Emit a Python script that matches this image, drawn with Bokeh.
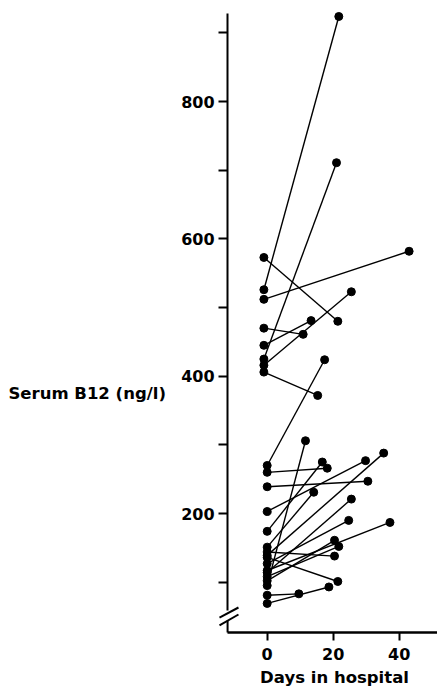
from bokeh.plotting import figure
from bokeh.models import Range1d, FixedTicker, Label, LinearAxis
from bokeh.embed import file_html
from bokeh.resources import INLINE

# --- data ---
start_day = [-1, -1, -1, -1, -1, -1, -1, -1,
             0, 0, 0, 0, 0, 0, 0, 0, 0, 0, 0, 0, 0, 0, 0, 0, 0]
start_val = [573, 526, 512, 470, 445, 425, 416, 406,
             270, 260, 239, 203, 174, 151, 139, 95, 114, 127, 144, 136, 117, 102, 108, 81, 69]
end_day = [21.4, 21.7, 43, 10.9, 13.3, 21, 25.5, 15.3,
           17.4, 18.2, 30.5, 29.8, 16.7, 14.1, 35.3, 11.6, 25.5, 24.7, 20.4, 21.4, 37.2, 20.4, 21.7, 9.6, 18.7]
end_val = [480, 924, 582, 461, 481, 711, 523, 372,
           424, 266, 247, 277, 275, 231, 288, 306, 221, 190, 138, 101, 187, 161, 152, 83, 93]

x_ticks = [0, 20, 40]
y_ticks = [200, 400, 600, 800]
y_minor = [100, 300, 500, 700, 900]

# axis geometry (data units)
X_AXIS_AT = 26.7          # y value where the day axis sits
Y_AXIS_AT = -12           # day value where the B12 axis sits
Y_TOP = 928
BREAK_HI = 58             # upper part of B12 axis ends here
BREAK_LO = 44             # lower stub starts here
X_END = 51.6

FONT = "DejaVu Sans"

p = figure(width=437, height=688, output_backend="svg", toolbar_location=None,
           x_range=Range1d(-80.8, 51.6), y_range=Range1d(-54.9, 947.3),
           x_axis_location=None, y_axis_location=None,
           min_border_left=0, min_border_right=0, min_border_top=0, min_border_bottom=0)
p.outline_line_color = None
p.grid.visible = False
p.background_fill_color = "white"
p.border_fill_color = "white"

# y axis
ya = LinearAxis(fixed_location=Y_AXIS_AT, bounds=(BREAK_HI, Y_TOP),
                ticker=FixedTicker(ticks=y_ticks, minor_ticks=y_minor))
ya.axis_line_width = 2
ya.major_tick_in = 0
ya.major_tick_out = 9
ya.minor_tick_in = 0
ya.minor_tick_out = 9
ya.major_tick_line_width = 2
ya.minor_tick_line_width = 2
ya.major_label_standoff = 4
ya.major_label_text_font = FONT
ya.major_label_text_font_style = "bold"
ya.major_label_text_font_size = "16px"
ya.major_label_text_color = "black"
p.add_layout(ya, "left")

# x axis
xa = LinearAxis(fixed_location=X_AXIS_AT, bounds=(Y_AXIS_AT, X_END),
                ticker=FixedTicker(ticks=x_ticks, minor_ticks=[]))
xa.axis_line_width = 2.5
xa.major_tick_in = 0
xa.major_tick_out = 8
xa.major_tick_line_width = 2
xa.major_label_standoff = 8
xa.major_label_text_font = FONT
xa.major_label_text_font_style = "bold"
xa.major_label_text_font_size = "16px"
xa.major_label_text_color = "black"
p.add_layout(xa, "below")

# axis break: lower stub and two slashes
p.segment(x0=[Y_AXIS_AT], y0=[X_AXIS_AT], x1=[Y_AXIS_AT], y1=[BREAK_LO],
          line_color="black", line_width=2)
p.segment(x0=[-14.45, -14.45], y0=[48.5, 36.9], x1=[-8.7, -8.7], y1=[63.1, 52.9],
          line_color="black", line_width=2)

# data
p.segment(x0=start_day, y0=start_val, x1=end_day, y1=end_val, line_color="black", line_width=1.4)
p.scatter(x=start_day, y=start_val, size=8, color="black")
p.scatter(x=end_day, y=end_val, size=8, color="black")

# axis titles
p.add_layout(Label(x=20.4, y=-53.3, text="Days in hospital", text_align="center",
                   text_baseline="bottom", text_font=FONT, text_font_style="bold",
                   text_font_size="16.5px", text_color="black"))
p.add_layout(Label(x=-78.4, y=374.8, text="Serum B12 (ng/l)", text_align="left",
                   text_baseline="middle", text_font=FONT, text_font_style="bold",
                   text_font_size="16.5px", text_color="black"))

open("out.html", "w").write(file_html(p, INLINE))
